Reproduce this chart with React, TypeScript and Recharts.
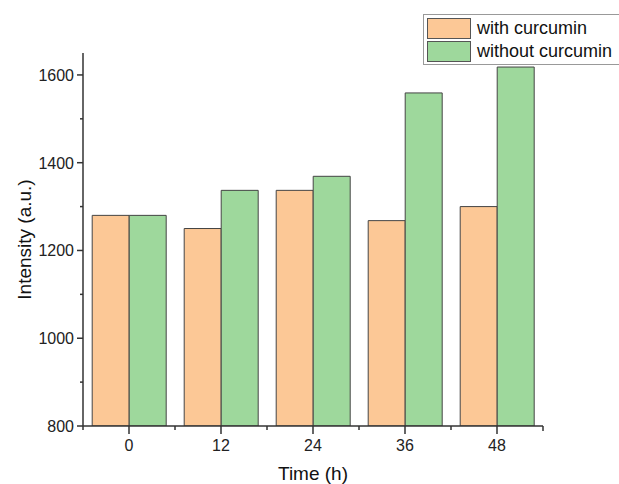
import { BarChart, Bar, XAxis, YAxis, Legend, Label } from 'recharts';

const times = ['0', '12', '24', '36', '48'];
const withCurcumin = [1280, 1250, 1337, 1268, 1300];
const withoutCurcumin = [1280, 1337, 1369, 1559, 1618];
const yTicks = [800, 900, 1000, 1100, 1200, 1300, 1400, 1500, 1600];

const data = times.map((t, i) => ({
  time: t,
  with: withCurcumin[i],
  without: withoutCurcumin[i],
}));

const ORANGE = '#fcc896';
const GREEN = '#9ed89c';
const AXIS = '#333';
const FONT = '"Liberation Sans", Arial, sans-serif';

const YTick = (props: any) => {
  const { x, y, payload } = props;
  const major = payload.value % 200 === 0;
  return (
    <g>
      <line x1={x + 8} x2={x + (major ? 2 : 5)} y1={y} y2={y} stroke={AXIS} strokeWidth={1.5} />
      {major && (
        <text x={x - 1} y={y} dy={6} textAnchor="end" fontSize={16} fill="#222" fontFamily={FONT}>
          {payload.value}
        </text>
      )}
    </g>
  );
};

const XTick = (props: any) => {
  const { x, y, payload, index } = props;
  const half = payload.offset || 46;
  return (
    <g>
      <line x1={x} x2={x} y1={y - 8} y2={y} stroke={AXIS} strokeWidth={1.5} />
      <line x1={x - half} x2={x - half} y1={y - 8} y2={y - 4} stroke={AXIS} strokeWidth={1.5} />
      {index === times.length - 1 && (
        <line x1={x + half} x2={x + half} y1={y - 8} y2={y - 3} stroke={AXIS} strokeWidth={1.5} />
      )}
      <text x={x} y={y} dy={17} textAnchor="middle" fontSize={16} fill="#222" fontFamily={FONT}>
        {payload.value}
      </text>
    </g>
  );
};

const LegendBox = () => (
  <div
    style={{
      border: '1px solid #999',
      background: '#fff',
      padding: '2px 0 1px 3px',
      fontFamily: FONT,
      fontSize: 18,
      color: '#111',
      width: 210,
      boxSizing: 'border-box',
    }}
  >
    {[
      { name: 'with curcumin', color: ORANGE },
      { name: 'without curcumin', color: GREEN },
    ].map((item) => (
      <div key={item.name} style={{ display: 'flex', alignItems: 'center', height: 23 }}>
        <span
          style={{
            display: 'inline-block',
            width: 42,
            height: 19,
            background: item.color,
            border: '1px solid #555',
            marginRight: 6,
          }}
        />
        <span style={{ whiteSpace: 'nowrap' }}>{item.name}</span>
      </div>
    ))}
  </div>
);

export default function App() {
  return (
    <div style={{ position: 'absolute', left: 0, top: 0, background: '#fff', overflow: 'hidden', width: 619, height: 484 }}>
      <BarChart
        width={619}
        height={484}
        data={data}
        margin={{ top: 53, right: 76, bottom: 0, left: 0 }}
        barCategoryGap="10%"
        barGap={0}
      >
        <XAxis
          dataKey="time"
          height={58}
          stroke={AXIS}
          strokeWidth={1.5}
          tickLine={false}
          tick={<XTick />}
          interval={0}
        >
          <Label value="Time (h)" position="insideBottom" offset={4} fontSize={19} fill="#111" fontFamily={FONT} />
        </XAxis>
        <YAxis
          width={83}
          domain={[800, 1650]}
          ticks={yTicks}
          stroke={AXIS}
          strokeWidth={1.5}
          tickLine={false}
          tick={<YTick />}
          interval={0}
          allowDataOverflow
        >
          <Label
            value="Intensity (a.u.)"
            angle={-90}
            position="insideLeft"
            offset={24}
            style={{ textAnchor: 'middle' }}
            fontSize={19}
            fill="#111"
            fontFamily={FONT}
          />
        </YAxis>
        <Legend
          verticalAlign="middle"
          align="center"
          layout="horizontal"
          content={<LegendBox />}
          wrapperStyle={{ top: 14, left: 423, width: 210 }}
        />
        <Bar dataKey="with" name="with curcumin" fill={ORANGE} stroke="#444" strokeWidth={1} isAnimationActive={false} />
        <Bar dataKey="without" name="without curcumin" fill={GREEN} stroke="#444" strokeWidth={1} isAnimationActive={false} />
      </BarChart>
    </div>
  );
}
